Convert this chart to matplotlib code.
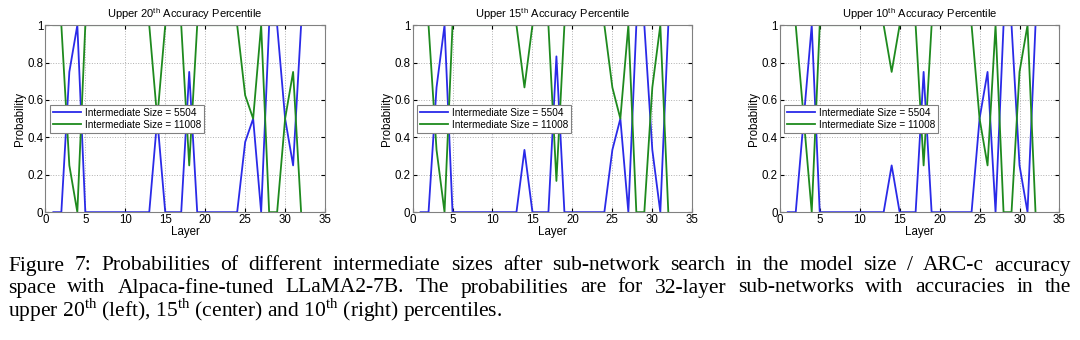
import numpy as np
import matplotlib.pyplot as plt

plt.rcParams['font.family'] = ['Liberation Sans', 'DejaVu Sans']
plt.rcParams['mathtext.fontset'] = 'custom'
plt.rcParams['mathtext.rm'] = 'Liberation Serif'
plt.rcParams['mathtext.sf'] = 'Liberation Sans'

layers = np.arange(1, 33)

# probability of intermediate size 5504 per layer (11008 is the complement)
p5504_20 = [0, 0, 0.75, 1, 0, 0, 0, 0, 0, 0, 0, 0, 0, 0.5, 0, 0,
            0, 0.75, 0, 0, 0, 0, 0, 0, 0.375, 0.5, 0, 1, 1, 0.5, 0.25, 1]
p5504_15 = [0, 0, 0.667, 1, 0, 0, 0, 0, 0, 0, 0, 0, 0, 0.333, 0, 0,
            0, 0.833, 0, 0, 0, 0, 0, 0, 0.333, 0.5, 0, 1, 1, 0.333, 0, 1]
p5504_10 = [0, 0, 0.5, 1, 0, 0, 0, 0, 0, 0, 0, 0, 0, 0.25, 0, 0,
            0, 0.75, 0, 0, 0, 0, 0, 0, 0.5, 0.75, 0, 1, 1, 0.25, 0, 1]

percentiles = ['20', '15', '10']
series = [p5504_20, p5504_15, p5504_10]
lefts = [0.042, 0.382, 0.722]

fig = plt.figure(figsize=(10.8, 3.4), dpi=100)

for pct, p, left in zip(percentiles, series, lefts):
    ax = fig.add_axes([left, 0.376, 0.259, 0.55])
    p = np.array(p)
    ax.plot(layers, p, color='#2a2ae8', lw=1.3, label='Intermediate Size = 5504')
    ax.plot(layers, 1 - p, color='#1e8a1e', lw=1.3, label='Intermediate Size = 11008')
    ax.set_xlim(0, 35)
    ax.set_ylim(0, 1)
    ax.set_xticks(range(0, 36, 5))
    ax.set_yticks([0, 0.2, 0.4, 0.6, 0.8, 1])
    ax.set_yticklabels(['0', '0.2', '0.4', '0.6', '0.8', '1'])
    ax.tick_params(direction='in', labelsize=8.3, length=3, pad=1.5,
                   top=True, right=True)
    ax.grid(True, ls=':', color='#b0b0b0', lw=0.7)
    for s in ax.spines.values():
        s.set_color('#808080')
        s.set_linewidth(0.8)
    ax.set_title('Upper ' + pct + r'$^{\mathsf{th}}$ Accuracy Percentile',
                 fontsize=8, pad=5)
    ax.set_xlabel('Layer', fontsize=8.3, labelpad=0)
    ax.set_ylabel('Probability', fontsize=8.3, labelpad=1)
    leg = ax.legend(loc='center left', bbox_to_anchor=(0.015, 0.5),
                    fontsize=7.2, fancybox=False, framealpha=1,
                    handlelength=2.8, borderpad=0.3, labelspacing=0.2,
                    handletextpad=0.4, borderaxespad=0)
    leg.get_frame().set_edgecolor('#808080')
    leg.get_frame().set_linewidth(0.8)

# caption, first two lines justified to the full width
caption = [
    'Figure 7: Probabilities of different intermediate sizes after sub-network search in the model size / ARC-c accuracy',
    'space with Alpaca-fine-tuned LLaMA2-7B. The probabilities are for 32-layer sub-networks with accuracies in the',
    r'upper 20$^{\rm th}$ (left), 15$^{\rm th}$ (center) and 10$^{\rm th}$ (right) percentiles.',
]
x0, x1 = 8, 1071
renderer = fig.canvas.get_renderer()
for i, line in enumerate(caption):
    y = 1 - (266 + 22 * i) / 340
    words = line.split(' ') if i < 2 else [line]
    texts = [fig.text(0, y, w, family='Liberation Serif', fontsize=15.5,
                      va='center', ha='left') for w in words]
    widths = [t.get_window_extent(renderer).width for t in texts]
    if len(texts) > 1:
        gap = (x1 - x0 - sum(widths)) / (len(texts) - 1)
    else:
        gap = 0
    x = x0
    for t, w in zip(texts, widths):
        t.set_x(x / 1080)
        x += w + gap

fig.savefig('out.png', dpi=100)
